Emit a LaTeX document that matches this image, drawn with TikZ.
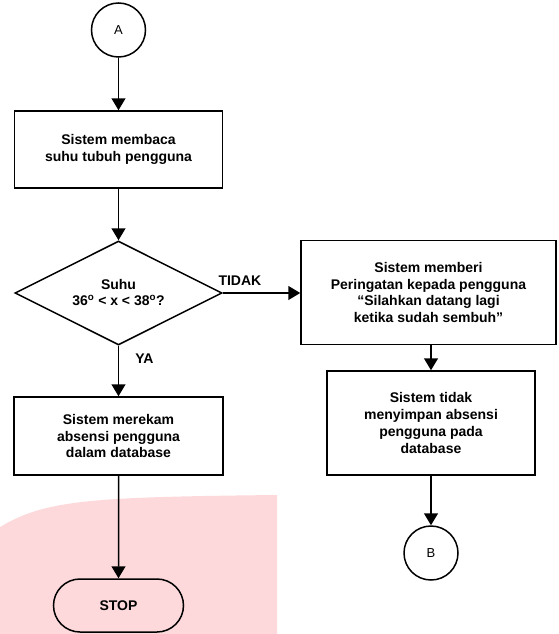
\documentclass[tikz,border=0pt]{standalone}
\usepackage{fontspec}
\setmainfont{Liberation Sans}
\usetikzlibrary{positioning,arrows.meta,shapes.geometric,shapes.misc}
\definecolor{wmpink}{RGB}{253,217,219}

\tikzset{
	proses/.style={draw,line width=1.5pt,align=center,inner sep=0pt,
		font=\bfseries\fontsize{14}{16.7}\selectfont},
	keputusan/.style={draw,diamond,aspect=2,line width=1.5pt,align=center,inner sep=0pt,
		minimum width=207,minimum height=104,font=\bfseries\fontsize{14}{14}\selectfont},
	konektor/.style={draw,circle,line width=1.5pt,minimum size=54,inner sep=0pt,
		font=\fontsize{13}{15}\selectfont},
	terminal/.style={draw,rounded rectangle,line width=1.5pt,minimum width=130,
		minimum height=53,inner sep=0pt,font=\bfseries\fontsize{14}{16}\selectfont},
	alur/.style={line width=1.5pt,-{Triangle[length=12pt,width=14pt]}},
	ket/.style={inner sep=0pt,font=\bfseries\fontsize{14}{16}\selectfont}
}

\begin{document}
\begin{tikzpicture}[x=1pt,y=-1pt]
	\useasboundingbox (0,0) rectangle (558,634);
	\fill[wmpink] (0,527) .. controls (45,500) and (90,497) .. (277,495) -- (277,634) -- (0,634) -- cycle;

	\node[konektor] (a) at (118.5,30) {A};
	\node[proses,minimum width=208,minimum height=77] (baca) at (118.5,149.5)
		{Sistem membaca\\suhu tubuh pengguna};
	\node[keputusan] (suhu) at (118.5,293)
		{Suhu\\[2pt]36\textsuperscript{o} < x < 38\textsuperscript{o}?};
	\node[proses,minimum width=209,minimum height=78] (rekam) at (118.5,436)
		{Sistem merekam\\absensi pengguna\\dalam database};
	\node[terminal] (stop) at (118.5,605.5) {STOP};

	\node[proses,minimum width=255,minimum height=104] (beri) at (428.5,292.5)
		{Sistem memberi\\Peringatan kepada pengguna\\“Silahkan datang lagi\\ketika sudah sembuh”};
	\node[proses,minimum width=208,minimum height=104] (simpan) at (431,423)
		{Sistem tidak\\menyimpan absensi\\pengguna pada\\database};
	\node[konektor] (b) at (431,553) {B};

	\path[alur]
	(a) edge (baca)
	(baca) edge (suhu)
	(suhu.east) edge node[ket,pos=0,anchor=south west,xshift=-5pt,yshift=7pt] {TIDAK} (beri.west |- suhu.east)
	(suhu) edge node[ket,pos=0,anchor=north west,xshift=16pt,yshift=-7pt] {YA} (rekam)
	(rekam) edge (stop)
	(beri.south -| simpan.north) edge (simpan)
	(simpan) edge (b);
\end{tikzpicture}
\end{document}
